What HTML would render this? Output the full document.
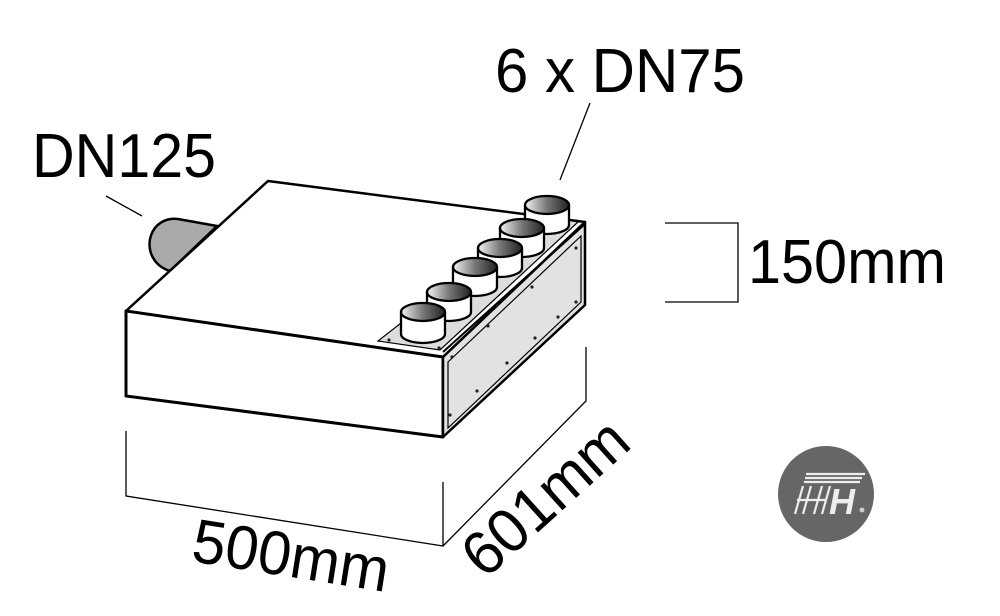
<!DOCTYPE html>
<html><head><style>html,body{margin:0;padding:0;background:#fff}svg{display:block}</style></head>
<body>
<svg width="1000" height="616" viewBox="0 0 1000 616" xmlns="http://www.w3.org/2000/svg">
<defs>
<linearGradient id="cg" x1="0" x2="1" y1="0" y2="0">
<stop offset="0" stop-color="#f4f4f4"/><stop offset="0.5" stop-color="#777"/><stop offset="1" stop-color="#222"/>
</linearGradient>
</defs>
<g font-family="Liberation Sans, Arial, sans-serif" font-size="62" fill="#000">
<text x="495" y="92" textLength="250" lengthAdjust="spacingAndGlyphs">6 x DN75</text>
<text x="32" y="177" textLength="184" lengthAdjust="spacingAndGlyphs">DN125</text>
<text x="748" y="283" textLength="198" lengthAdjust="spacingAndGlyphs">150mm</text>
<text x="0" y="0" textLength="198" lengthAdjust="spacingAndGlyphs" transform="translate(190,561) rotate(9)">500mm</text>
<text x="0" y="0" textLength="200" lengthAdjust="spacingAndGlyphs" transform="translate(485,580) rotate(-42)">601mm</text>
</g>
<g stroke="#000" stroke-width="1.3" fill="none">
<line x1="590" y1="103" x2="560" y2="180"/>
<line x1="106" y1="196" x2="142" y2="216"/>
<polyline points="665,223 738,223 738,302 665,302"/>
<polyline points="126,431 126,496 443,546 443,482"/>
<polyline points="443,546 586,401 586,347"/>
</g>
<path d="M217,226 L178,219 C150,216 140,250 160,266 C166,270 170,271 170,271 Z" fill="#aaa" stroke="#000" stroke-width="2.5"/>
<polygon points="268,181 585,222 443,357 126,311" fill="#fff" stroke="#000" stroke-width="2.5" stroke-linejoin="round"/>
<polygon points="126,311 443,357 443,437 126,396" fill="#fff" stroke="#000" stroke-width="3" stroke-linejoin="round"/>
<polygon points="443,357 585,222 585,305 443,437" fill="#e2e2e2" stroke="#000" stroke-width="2.5" stroke-linejoin="round"/>
<polygon points="448,362 581,236 581,302 448,428" fill="none" stroke="#000" stroke-width="1.2"/>
<polygon points="378,341 440,350 578,222 540,215" fill="#ddd" stroke="#000" stroke-width="1.2"/>
<line x1="443" y1="352" x2="585" y2="224" stroke="#000" stroke-width="2"/>
<g fill="#222">
<circle cx="452" cy="357" r="1.6"/><circle cx="488" cy="326" r="1.6"/><circle cx="532" cy="287" r="1.6"/><circle cx="576" cy="248" r="1.6"/>
<circle cx="450" cy="415" r="1.6"/><circle cx="477" cy="391" r="1.6"/><circle cx="507" cy="363" r="1.6"/><circle cx="535" cy="338" r="1.6"/><circle cx="558" cy="317" r="1.6"/><circle cx="576" cy="302" r="1.6"/>
<circle cx="389" cy="340" r="1.6"/><circle cx="439" cy="348" r="1.6"/>
</g>
<g stroke="#000" stroke-width="2.3">
<g transform="translate(547,205)"><path d="M-22,0 V20 A22,9 0 0 0 22,20 V0" fill="#fff"/><ellipse rx="22" ry="9" fill="url(#cg)"/></g>
<g transform="translate(522,228)"><path d="M-22,0 V20 A22,9 0 0 0 22,20 V0" fill="#fff"/><ellipse rx="22" ry="9" fill="url(#cg)"/></g>
<g transform="translate(500,248)"><path d="M-22,0 V20 A22,9 0 0 0 22,20 V0" fill="#fff"/><ellipse rx="22" ry="9" fill="url(#cg)"/></g>
<g transform="translate(475,267)"><path d="M-22,0 V20 A22,9 0 0 0 22,20 V0" fill="#fff"/><ellipse rx="22" ry="9" fill="url(#cg)"/></g>
<g transform="translate(449,292)"><path d="M-22,0 V20 A22,9 0 0 0 22,20 V0" fill="#fff"/><ellipse rx="22" ry="9" fill="url(#cg)"/></g>
<g transform="translate(423,312)"><path d="M-22,0 V22 A22,9 0 0 0 22,22 V0" fill="#fff"/><ellipse rx="22" ry="9" fill="url(#cg)"/></g>
</g>
<circle cx="826" cy="494" r="48" fill="#666"/>
<g fill="none" stroke="#eee" stroke-width="2.2">
<line x1="806" y1="474" x2="865" y2="474"/>
<line x1="805" y1="478" x2="862" y2="478"/>
<line x1="804" y1="482" x2="860" y2="482"/>
<path d="M803,486 L795,514 M811,486 L803,514 M797,500 L826,500 M822,486 L814,514 M830,486 L822,514"/>
</g>
<text x="829" y="514" font-family="Liberation Sans, sans-serif" font-weight="bold" font-style="italic" font-size="36" fill="#eee">H</text>
<circle cx="862" cy="510" r="2.5" fill="#ccc"/>
</svg>
</body></html>
